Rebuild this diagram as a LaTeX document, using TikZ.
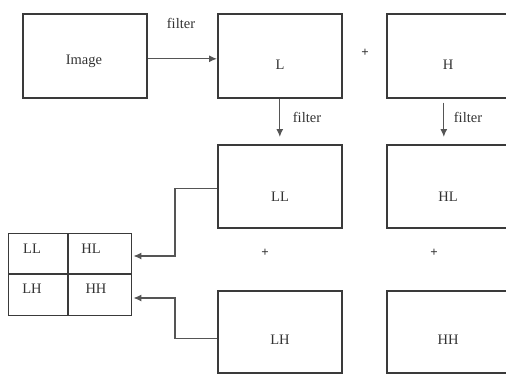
\documentclass[tikz,border=0pt]{standalone}
\usepackage{fontspec}
\setmainfont{Liberation Serif}
\usetikzlibrary{arrows.meta}
\definecolor{ln}{HTML}{3A3A3A}
\definecolor{ln2}{HTML}{555555}
\definecolor{tx}{HTML}{333333}
\tikzset{
  box/.style={draw=ln, line width=1.6pt, minimum width=124pt, minimum height=84pt, inner sep=0pt, anchor=north west},
  lbl/.style={text=tx, font=\fontsize{14.5}{14.5}\selectfont, inner sep=0pt},
  plus/.style={text=tx, font=\fontsize{13}{13}\selectfont\bfseries, inner sep=0pt},
  arr/.style={draw=ln2, line width=1.3pt, -{Latex[length=8pt,width=7pt]}},
  ln/.style={draw=ln, line width=1.3pt}
}
\begin{document}
\begin{tikzpicture}[x=1pt,y=-1pt]
\useasboundingbox (0,0) rectangle (506,373);
\clip (0,0) rectangle (506,373);
% boxes
\node[box] (img) at (22,13) {};
\node[box] (L) at (217,13) {};
\node[box] (H) at (386,13) {};
\node[box, minimum height=83pt] (LL) at (217,144) {};
\node[box, minimum height=83pt] (HL) at (386,144) {};
\node[box, minimum height=82pt] (LH) at (217,290) {};
\node[box, minimum height=82pt] (HH) at (386,290) {};
% labels
\node[lbl] (timg) at (84,61) {Image};
\node[lbl] (tL) at (280,65) {L};
\node[lbl] (tH) at (448,65) {H};
\node[lbl] (tLL) at (280,197) {LL};
\node[lbl] (tHL) at (448,197) {HL};
\node[lbl] (tLH) at (280,340) {LH};
\node[lbl] (tHH) at (448,340) {HH};
\node[lbl] (f1) at (181,23) {filter};
\node[lbl] (f2) at (307,117) {filter};
\node[lbl] (f3) at (468,117) {filter};
\node[plus] (p1) at (365,53) {+};
\node[plus] (p2) at (265,253) {+};
\node[plus] (p3) at (434,253) {+};
% grid
\node[draw=ln, line width=1.4pt, minimum width=123pt, minimum height=82pt, inner sep=0pt, anchor=north west] (grid) at (8,233) {};
\coordinate (gx) at (68,0);
\coordinate (gy) at (0,274);
\draw[ln] (gx |- grid.north) -- (gx |- grid.south);
\draw[ln] (gy -| grid.west) -- (gy -| grid.east);
\node[lbl] (gLL) at (32,249) {LL};
\node[lbl] (gHL) at (91,249) {HL};
\node[lbl] (gLH) at (32,289) {LH};
\node[lbl] (gHH) at (96,289) {HH};
% arrows
\draw[arr] ([yshift=-3pt]img.east) -- ([yshift=-3pt]L.west);
\draw[arr] (L.south) -- ([yshift=7pt]LL.north);
\draw[arr] ([xshift=-5pt,yshift=-4pt]H.south) -- ([xshift=-5pt,yshift=7pt]HL.north);
\coordinate (j1) at (175,256);
\coordinate (j2) at (175,298);
\draw[arr] ([yshift=-2pt]LL.west) -| (j1) -- ([xshift=1pt]j1 -| grid.east);
\draw[arr] ([yshift=-7pt]LH.west) -| (j2) -- ([xshift=1pt]j2 -| grid.east);
\end{tikzpicture}
\end{document}
